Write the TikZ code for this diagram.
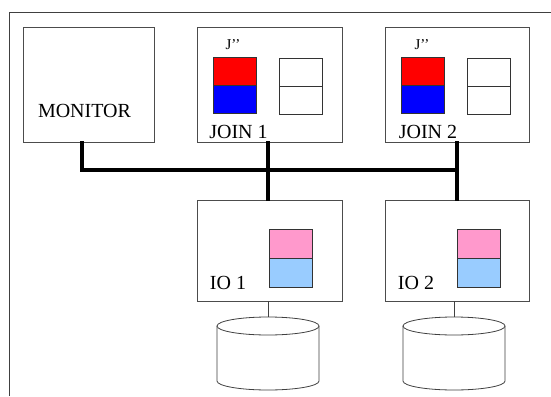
\documentclass[tikz,border=0pt]{standalone}
\usepackage{fontspec}
\setmainfont{Liberation Serif}
\usetikzlibrary{calc}
\begin{document}
\begin{tikzpicture}[x=1pt,y=-1pt,
  frame/.style={draw=black!75,line width=0.9pt},
  box/.style={draw=black!70,line width=0.8pt,fill=white,inner sep=0pt},
  half/.style={draw=black!80,line width=0.8pt,inner sep=0pt,minimum width=43pt,minimum height=28pt},
  bus/.style={line width=3.6pt,line cap=rect},
  thin/.style={draw=black!75,line width=0.8pt},
  lbl/.style={font=\fontsize{20}{22}\selectfont,inner sep=0pt},
  jl/.style={font=\fontsize{15}{17}\selectfont,inner sep=0pt}]
\definecolor{pinkc}{HTML}{FF99CC}
\definecolor{lblue}{HTML}{99CCFF}
\useasboundingbox (0,0) rectangle (551,396);
\fill[white] (0,0) rectangle (551,396);
% outer frame
\draw[frame] (9.5,396) -- (9.5,12) -- (551,12);
% boxes
\node[box,minimum width=131pt,minimum height=115pt] (mon) at (88.5,84.5) {};
\node[box,minimum width=145pt,minimum height=115pt] (j1) at (269.5,84.5) {};
\node[box,minimum width=144pt,minimum height=115pt] (j2) at (457,84.5) {};
\node[box,minimum width=145pt,minimum height=101pt] (io1) at (269.5,250.5) {};
\node[box,minimum width=144pt,minimum height=101pt] (io2) at (457,250.5) {};
% labels
\node[lbl] (tm) at (84.5,111) {MONITOR};
\node[lbl] (tj1) at (238.5,132) {JOIN 1};
\node[lbl] (ti1) at (228,283) {IO 1};
\node[lbl] (tj2) at (428,132) {JOIN 2};
\node[lbl] (ti2) at (416,283) {IO 2};
\node[jl] (jp1) at (233,45) {J’’};
\node[jl] (jp2) at (422,45) {J’’};
% JOIN 1 buffers
\node[half,fill=red] (r1) at (234.5,71.5) {};
\node[half,fill=blue] (b1) at (234.5,99.5) {};
\node[half,fill=white] (w1a) at (300.5,72) {};
\node[half,fill=white] (w1b) at (300.5,100) {};
% JOIN 2 buffers
\node[half,fill=red] (r2) at (422.5,71.5) {};
\node[half,fill=blue] (b2) at (422.5,99.5) {};
\node[half,fill=white] (w2a) at (488.5,72) {};
\node[half,fill=white] (w2b) at (488.5,100) {};
% IO buffers
\node[half,fill=pinkc,minimum height=29pt] (p1) at (291,243.5) {};
\node[half,fill=lblue,minimum height=29pt] (q1) at (291,272.5) {};
\node[half,fill=pinkc,minimum height=29pt] (p2) at (479,243.5) {};
\node[half,fill=lblue,minimum height=29pt] (q2) at (479,272.5) {};
% bus
\coordinate (bm) at (82,170);
\coordinate (b1c) at (268,170);
\coordinate (b2c) at (457,170);
\draw[bus] (mon.south -| bm) -- (bm) -- (b2c);
\draw[bus] (j1.south -| b1c) -- (io1.north -| b1c);
\draw[bus] (j2.south -| b2c) -- (io2.north -| b2c);
% disks
\coordinate (d1) at (268,317);
\coordinate (d2) at (454,317);
\draw[thin] (io1.south -| d1) -- (d1);
\draw[thin] (io2.south -| d2) -- (d2);
\foreach \c in {d1,d2}{
  \draw[thin,fill=white] ($(\c)+(-51,9)$) -- ++(0,55) arc[start angle=180,end angle=360,x radius=51pt,y radius=9pt] -- ++(0,-55);
  \draw[thin,fill=white] ($(\c)+(0,9)$) ellipse[x radius=51pt,y radius=9pt];
}
\end{tikzpicture}
\end{document}
